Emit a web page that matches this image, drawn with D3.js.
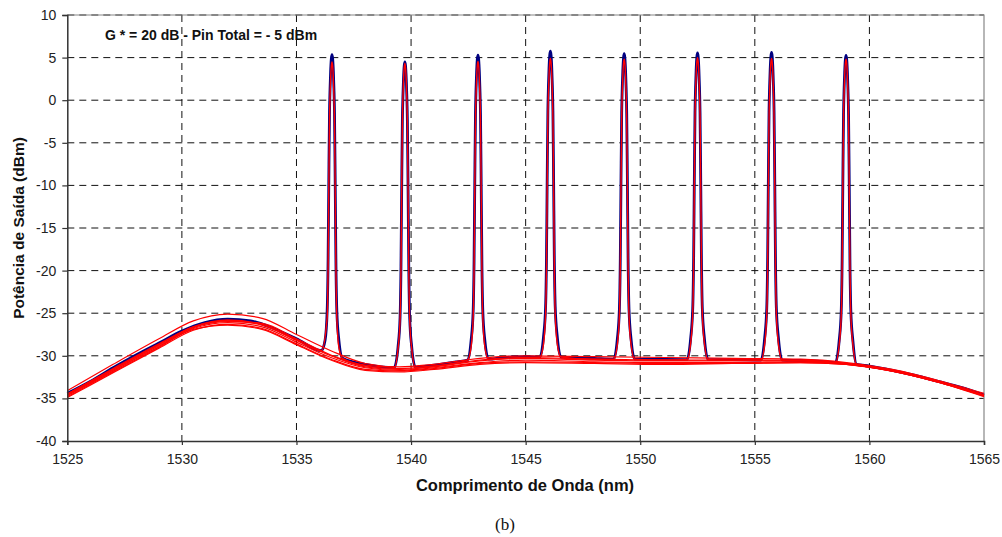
<!DOCTYPE html>
<html>
<head>
<meta charset="utf-8">
<script src="https://cdn.jsdelivr.net/npm/d3@7"></script>
<style>
  html, body { margin: 0; padding: 0; background: #fff; }
  svg { display: block; font-family: "Liberation Sans", Arial, sans-serif; }
</style>
</head>
<body>
<svg id="chart" width="1002" height="537"></svg>
<script>
// Axis ticks
const xTicks = [1525, 1530, 1535, 1540, 1545, 1550, 1555, 1560, 1565];
const yTicks = [-40, -35, -30, -25, -20, -15, -10, -5, 0, 5, 10];

// Channel peaks (nm) and their top levels (dBm)
const peakCenters = [1536.55, 1539.73, 1542.92, 1546.08, 1549.30, 1552.50, 1555.73, 1558.98];
const blueTops    = [5.35, 4.5, 5.3, 5.75, 5.45, 5.55, 5.6, 5.25];
const redTops     = [4.5, 4.3, 4.55, 4.9, 4.8, 5.0, 4.9, 4.8];
// ASE level where each channel line meets the floor (left / right side)
const peakFeetL   = [-29.4, -31.35, -30.5, -30.15, -30.4, -30.45, -30.5, -30.8];
const peakFeetR   = [-30.3, -31.35, -30.4, -30.15, -30.4, -30.45, -30.5, -31.0];

// Channel line shape: distance from centre (nm) and level below the top (dB)
const peakOffsets = [0, 0.03, 0.06, 0.085, 0.11, 0.14, 0.17, 0.21, 0.30];
const peakDrops   = [0, -0.5, -2, -4, -7, -15, -24, -30, -33.5];
const peakFootOffset = 0.46;

// ASE floor of the reference spectrum (blue)
const blueWl  = [1525, 1526, 1527, 1528, 1529, 1530, 1531, 1532, 1533, 1534, 1535, 1536, 1537, 1538, 1539, 1540, 1541, 1542, 1543, 1544, 1545, 1546, 1548, 1550, 1552, 1554, 1556, 1557, 1558, 1559, 1560, 1561, 1562, 1563, 1564, 1565];
const blueAse = [-34.4, -33.0, -31.4, -29.9, -28.5, -27.1, -26.1, -25.7, -25.9, -26.8, -28.0, -29.2, -30.3, -31.0, -31.35, -31.35, -31.1, -30.7, -30.4, -30.2, -30.1, -30.15, -30.3, -30.4, -30.45, -30.45, -30.5, -30.55, -30.7, -30.9, -31.2, -31.7, -32.3, -33.0, -33.7, -34.6];

// Wavelength grid of the red traces
const redWl = [1525, 1527, 1529, 1530.5, 1532, 1533.5, 1535, 1536.5, 1538, 1539.5, 1541, 1543, 1545, 1548, 1551, 1554, 1557, 1559, 1561, 1563, 1565];
// Red trace carrying the channels
const redPeakAse = [-34.5, -31.5, -28.6, -26.6, -25.8, -26.3, -28.1, -29.9, -31.1, -31.5, -31.2, -30.5, -30.2, -30.4, -30.5, -30.5, -30.6, -30.9, -31.7, -33.0, -34.6];
// Red ASE-only traces
const redAseA = [-34.1, -31.0, -28.0, -25.9, -25.1, -25.6, -27.5, -29.4, -30.9, -31.3, -31.0, -30.3, -30.0, -30.1, -30.2, -30.3, -30.4, -30.8, -31.6, -32.9, -34.4];
const redAseB = [-34.5, -31.6, -28.7, -26.6, -25.9, -26.4, -28.2, -30.0, -31.3, -31.6, -31.3, -30.6, -30.3, -30.5, -30.6, -30.6, -30.6, -30.9, -31.7, -33.0, -34.6];
const redAseC = [-34.7, -31.8, -28.9, -26.8, -26.1, -26.6, -28.4, -30.2, -31.4, -31.7, -31.4, -30.8, -30.5, -30.7, -30.8, -30.8, -30.7, -31.0, -31.8, -33.1, -34.7];
const redAseD = [-34.9, -32.0, -29.1, -27.0, -26.3, -26.8, -28.6, -30.4, -31.6, -31.8, -31.5, -30.9, -30.7, -30.8, -30.9, -30.9, -30.8, -31.0, -31.8, -33.1, -34.8];
const redAseE = [-34.6, -31.7, -28.8, -26.7, -26.0, -26.2, -28.0, -29.9, -31.2, -31.5, -31.2, -30.5, -30.2, -30.4, -30.5, -30.5, -30.5, -30.9, -31.7, -33.0, -34.6];
const redAseF = [-34.8, -31.9, -29.0, -26.9, -26.4, -26.9, -28.7, -30.5, -31.7, -31.9, -31.6, -31.0, -30.8, -30.9, -31.0, -30.9, -30.8, -31.0, -31.8, -33.1, -34.7];

const svg = d3.select("#chart");
const x = d3.scaleLinear().domain([1525, 1565]).range([67.3, 984]);
const y = d3.scaleLinear().domain([-40, 10]).range([441, 15]);

// Grid
const grid = svg.append("g");
grid.selectAll("line.h").data(yTicks.filter(v => v > -40)).join("line")
  .attr("x1", x(1525)).attr("x2", x(1565))
  .attr("y1", d => y(d)).attr("y2", d => y(d))
  .attr("stroke", "#111").attr("stroke-width", 1).attr("stroke-dasharray", "7,5");
grid.selectAll("line.v").data(xTicks.filter(v => v > 1525 && v < 1565)).join("line")
  .attr("x1", d => x(d)).attr("x2", d => x(d))
  .attr("y1", y(10)).attr("y2", y(-40))
  .attr("stroke", "#111").attr("stroke-width", 1).attr("stroke-dasharray", "7,5");
// Frame top/right
svg.append("path")
  .attr("d", `M${x(1525)},${y(10)}H${x(1565)}V${y(-40)}`)
  .attr("fill", "none").attr("stroke", "#888").attr("stroke-width", 1.2);

// Build a spectrum from an ASE floor plus channel lines
function spectrum(wl, ase, tops) {
  const pts = [];
  wl.forEach((w, i) => {
    if (peakCenters.every(c => Math.abs(w - c) >= 0.55)) pts.push([w, ase[i]]);
  });
  peakCenters.forEach((c, k) => {
    const top = tops[k], fl = peakFeetL[k], fr = peakFeetR[k];
    pts.push([c - peakFootOffset, fl], [c + peakFootOffset, fr]);
    peakOffsets.forEach((o, j) => {
      const v = top + peakDrops[j];
      if (o === 0) { pts.push([c, v]); return; }
      if (v > fl + 1) pts.push([c - o, v]);
      if (v > fr + 1) pts.push([c + o, v]);
    });
  });
  return pts.sort((a, b) => a[0] - b[0]);
}

const line = d3.line().x(d => x(d[0])).y(d => y(d[1])).curve(d3.curveMonotoneX);
const plot = svg.append("g");

// Reference spectrum (blue)
plot.append("path").datum(spectrum(blueWl, blueAse, blueTops))
  .attr("d", line).attr("fill", "none")
  .attr("stroke", "#000080").attr("stroke-width", 2.8).attr("stroke-linejoin", "round");

// Red ASE traces
[redAseA, redAseB, redAseC, redAseD, redAseE, redAseF].forEach(arr => {
  plot.append("path").datum(redWl.map((w, i) => [w, arr[i]]))
    .attr("d", line).attr("fill", "none")
    .attr("stroke", "#ff0000").attr("stroke-width", 1.2);
});
// Red trace with channels
plot.append("path").datum(spectrum(redWl, redPeakAse, redTops))
  .attr("d", line).attr("fill", "none")
  .attr("stroke", "#ff0000").attr("stroke-width", 1.4).attr("stroke-linejoin", "round");

// Axes (plain hyphen for negative labels)
const fmt = d => String(d);
const xAxis = svg.append("g").attr("transform", `translate(0,${y(-40)})`)
  .call(d3.axisBottom(x).tickValues(xTicks).tickFormat(fmt).tickSize(4).tickPadding(9));
const yAxis = svg.append("g").attr("transform", `translate(${x(1525)},0)`)
  .call(d3.axisLeft(y).tickValues(yTicks).tickFormat(fmt).tickSize(5).tickPadding(6));
[xAxis, yAxis].forEach(g => {
  g.select(".domain").attr("stroke", "#333").attr("stroke-width", 1.5);
  g.selectAll(".tick line").attr("stroke", "#333").attr("stroke-width", 1.2);
  g.selectAll(".tick text").attr("font-size", 14).attr("fill", "#222")
    .attr("font-family", "'Liberation Sans', Arial, sans-serif");
});

// Titles
svg.append("text").attr("x", 105).attr("y", 40)
  .attr("font-size", 14).attr("font-weight", "bold").attr("fill", "#111")
  .text("G * = 20 dB - Pin Total = - 5 dBm");
svg.append("text").attr("x", 525).attr("y", 490.5).attr("text-anchor", "middle")
  .attr("font-size", 16.5).attr("font-weight", "bold").attr("fill", "#111")
  .text("Comprimento de Onda (nm)");
svg.append("text").attr("transform", "translate(24,228) rotate(-90)").attr("text-anchor", "middle")
  .attr("font-size", 15.5).attr("font-weight", "bold").attr("fill", "#111")
  .text("Potência de Saída (dBm)");
svg.append("text").attr("x", 505).attr("y", 530).attr("text-anchor", "middle")
  .attr("font-size", 17).attr("font-family", "'Liberation Serif', 'Times New Roman', serif").attr("fill", "#111")
  .text("(b)");
</script>
</body>
</html>
